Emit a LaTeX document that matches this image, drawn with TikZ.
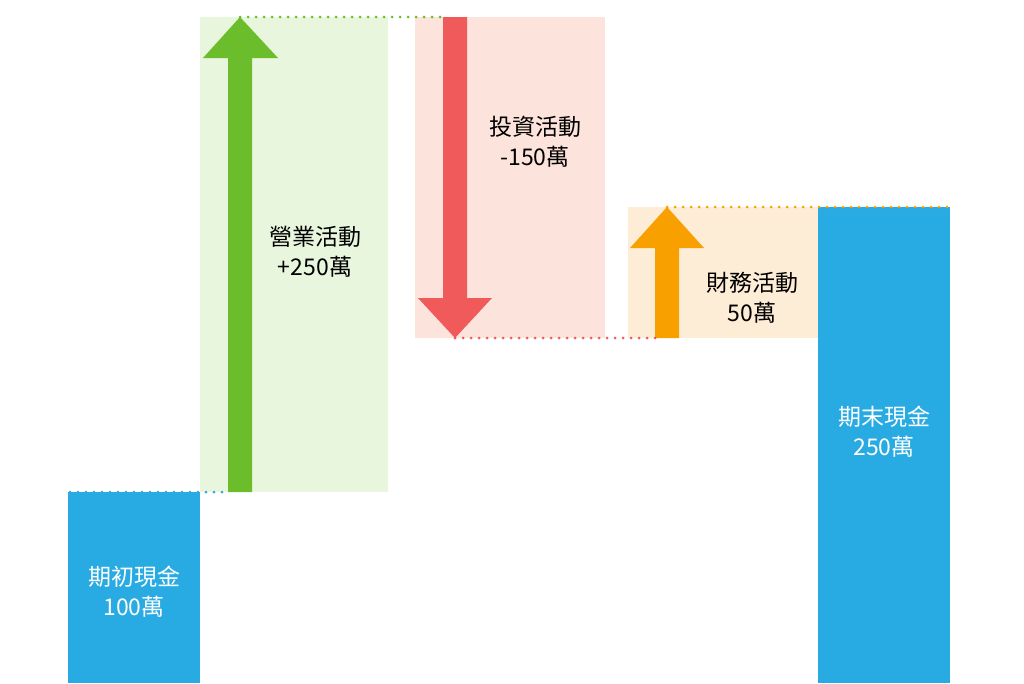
\documentclass[tikz,border=0pt]{standalone}
\usepackage{fontspec}
\setmainfont{Noto Sans CJK TC}
\begin{document}
\begin{tikzpicture}[x=1pt,y=-1pt,
  lbl/.style={align=center,font=\fontsize{23}{30}\selectfont,inner sep=0pt},
  dots/.style={line width=3pt,line cap=round,dash pattern=on 0pt off 8pt}]
\definecolor{cblue}{HTML}{27ABE2}
\definecolor{cgreen}{HTML}{6CBD2C}
\definecolor{bgreen}{HTML}{E9F6DE}
\definecolor{cred}{HTML}{F05A5B}
\definecolor{bred}{HTML}{FCE3DB}
\definecolor{corange}{HTML}{F8A000}
\definecolor{borange}{HTML}{FDEDD6}
\useasboundingbox (0,0) rectangle (1024,683);
\fill[white] (0,0) rectangle (1024,683);
% backgrounds
\fill[bgreen] (200,17) rectangle (388,492);
\fill[bred] (415,17) rectangle (605,338);
\fill[borange] (628,207) rectangle (818,338);
% bars
\fill[cblue] (68,492) rectangle (200,683);
\fill[cblue] (818,207) rectangle (950,683);
% arrows
\fill[cgreen] (228,492) -- (228,58) -- (203,58) -- (240,17) -- (278,58) -- (252,58) -- (252,492) -- cycle;
\fill[cred] (443,17) -- (443,298) -- (418,298) -- (455,338) -- (492,298) -- (467,298) -- (467,17) -- cycle;
\fill[corange] (655,338) -- (655,248) -- (630,248) -- (667,207) -- (704,248) -- (679,248) -- (679,338) -- cycle;
% dotted guide lines
\coordinate (b1) at (70,492); \coordinate (b2) at (228,492);
\coordinate (g1) at (240,17); \coordinate (g2) at (440,17);
\coordinate (r1) at (455,338); \coordinate (r2) at (655,338);
\coordinate (o1) at (667,207); \coordinate (o2) at (950,207);
\draw[dots,cblue] (b1) -- (b2);
\draw[dots,cgreen] (g1) -- (g2);
\draw[dots,cred] (r1) -- (r2);
\draw[dots,corange] (o1) -- (o2);
% labels
\node[lbl,text=white] (start) at (134,592) {期初現金\\100萬};
\node[lbl] (op) at (315,252) {營業活動\\+250萬};
\node[lbl] (inv) at (535,142) {投資活動\\-150萬};
\node[lbl] (fin) at (752,298) {財務活動\\50萬};
\node[lbl,text=white] (end) at (884,432) {期末現金\\250萬};
\end{tikzpicture}
\end{document}
